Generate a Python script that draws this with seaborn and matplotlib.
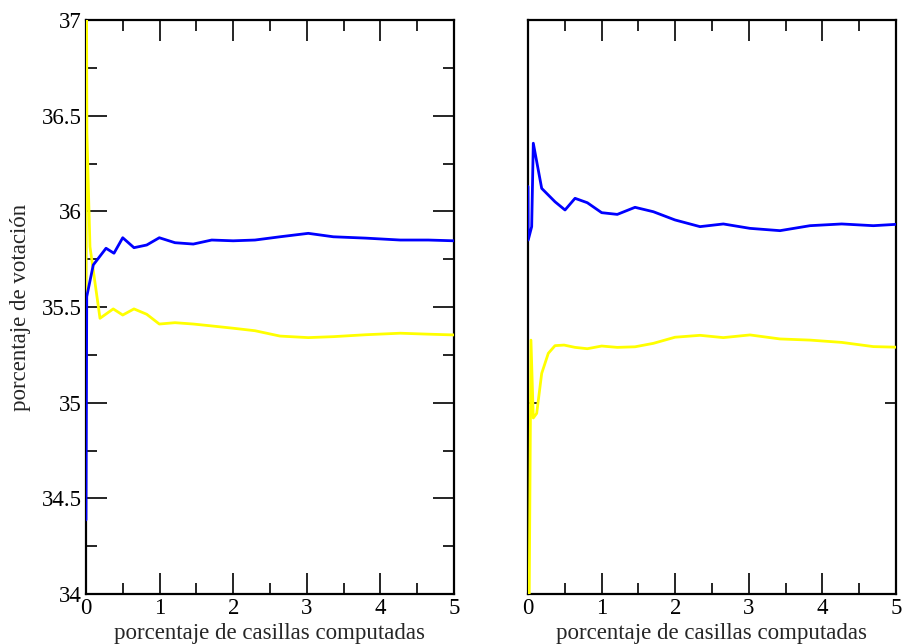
import seaborn as sns
import matplotlib.pyplot as plt
import pandas as pd
from matplotlib.ticker import MultipleLocator, FixedLocator, NullFormatter, FormatStrFormatter

# data (x = % casillas computadas, y = % votacion)
left_blue_x = [0.0, 0.01, 0.099, 0.272, 0.38, 0.499, 0.652, 0.825, 0.996, 1.209, 1.458,
               1.708, 2.0, 2.296, 2.636, 3.02, 3.36, 3.8, 4.27, 4.65, 5.0]
left_blue_y = [34.387, 35.554, 35.72, 35.807, 35.781, 35.862, 35.81, 35.824, 35.862, 35.836, 35.829,
               35.85, 35.846, 35.85, 35.867, 35.885, 35.867, 35.86, 35.85, 35.85, 35.846]

left_yellow_x = [0.0, 0.004, 0.012, 0.054, 0.19, 0.37, 0.499, 0.652, 0.825, 0.996, 1.209,
                 1.458, 1.708, 2.0, 2.296, 2.636, 3.02, 3.36, 3.8, 4.27, 4.65, 5.0]
left_yellow_y = [35.21, 37.6, 36.41, 35.815, 35.441, 35.49, 35.458, 35.49, 35.462, 35.411, 35.418,
                 35.411, 35.401, 35.389, 35.376, 35.348, 35.34, 35.345, 35.355, 35.363, 35.358, 35.354]

right_blue_x = [0.0, 0.003, 0.05, 0.072, 0.186, 0.367, 0.503, 0.639, 0.806, 1.001, 1.213,
                1.454, 1.703, 1.997, 2.337, 2.654, 3.016, 3.424, 3.832, 4.262, 4.692, 5.0]
right_blue_y = [36.13, 35.85, 35.92, 36.356, 36.12, 36.05, 36.007, 36.068, 36.045, 35.993, 35.984,
                36.021, 35.998, 35.955, 35.92, 35.934, 35.911, 35.899, 35.925, 35.934, 35.925, 35.932]

right_yellow_x = [0.015, 0.04, 0.072, 0.118, 0.186, 0.276, 0.367, 0.49, 0.639, 0.806, 1.001,
                  1.213, 1.454, 1.703, 1.997, 2.337, 2.654, 3.016, 3.424, 3.832, 4.262, 4.692, 5.0]
right_yellow_y = [33.9, 35.327, 34.92, 34.944, 35.153, 35.258, 35.298, 35.301, 35.289, 35.282, 35.296,
                  35.289, 35.292, 35.31, 35.342, 35.352, 35.34, 35.354, 35.333, 35.327, 35.315, 35.293, 35.29]

sns.set_style("white")
plt.rcParams["font.family"] = ["Liberation Serif", "DejaVu Serif"]
plt.rcParams["font.size"] = 16.5

fig = plt.figure(figsize=(9.02, 6.44), dpi=100)
W, H = 902, 644
ax1 = fig.add_axes([86 / W, 1 - 594 / H, 368 / W, 574 / H])
ax2 = fig.add_axes([528 / W, 1 - 594 / H, 368 / W, 574 / H])

panels = [
    (ax1, left_blue_x, left_blue_y, left_yellow_x, left_yellow_y),
    (ax2, right_blue_x, right_blue_y, right_yellow_x, right_yellow_y),
]

for ax, bx, by, yx, yy in panels:
    df_b = pd.DataFrame({"x": bx, "y": by})
    df_y = pd.DataFrame({"x": yx, "y": yy})
    sns.lineplot(data=df_y, x="x", y="y", ax=ax, color="#ffff00", lw=2,
                 sort=False, estimator=None, zorder=3)
    sns.lineplot(data=df_b, x="x", y="y", ax=ax, color="#0000ff", lw=2,
                 sort=False, estimator=None, zorder=3.1)
    ax.set_xlim(0, 5)
    ax.set_ylim(34, 37)
    ax.xaxis.set_major_locator(MultipleLocator(1))
    ax.xaxis.set_minor_locator(MultipleLocator(0.5))
    for s in ax.spines.values():
        s.set_linewidth(1.6)
        s.set_color("black")
    ax.tick_params(which="both", direction="in", top=True, right=True,
                   left=True, bottom=True,
                   width=1.2, colors="black", labelsize=16.5, pad=3)
    ax.tick_params(which="major", length=15)
    ax.tick_params(which="minor", length=8)
    ax.set_xlabel("porcentaje de casillas computadas", fontsize=16.5, labelpad=3)
    ax.set_ylabel("")

ax1.yaxis.set_major_locator(MultipleLocator(0.5))
ax1.yaxis.set_minor_locator(MultipleLocator(0.25))
ax1.yaxis.set_major_formatter(FormatStrFormatter("%g"))
ax1.set_ylabel("porcentaje de votación", fontsize=16.5, labelpad=8)

ax2.yaxis.set_major_locator(FixedLocator([]))
ax2.yaxis.set_minor_locator(FixedLocator([35]))
ax2.yaxis.set_minor_formatter(NullFormatter())

fig.savefig("out.png", dpi=100)
